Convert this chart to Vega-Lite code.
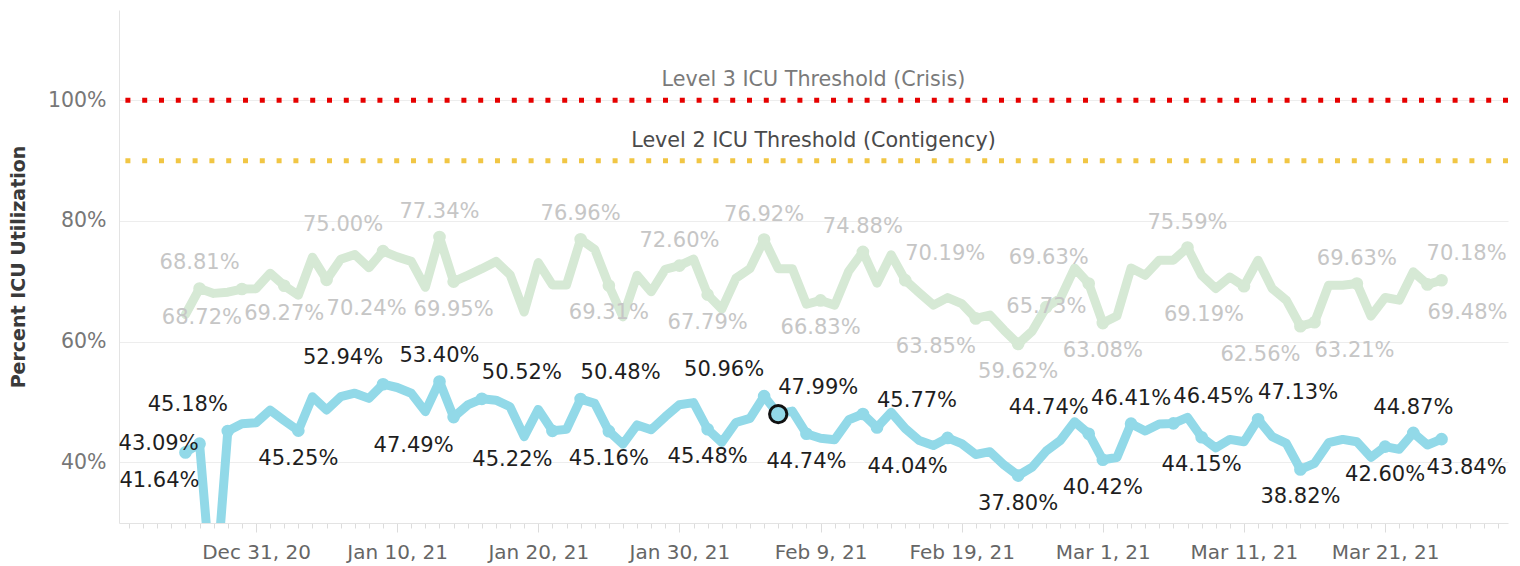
{
"$schema": "https://vega.github.io/schema/vega-lite/v6.json",
"width": 1389, "height": 513,
"autosize": {"type": "none"},
"padding": {"left": 119, "top": 10, "right": 12, "bottom": 43},
"config": {"font": "DejaVu Sans", "view": {"stroke": null}, "text": {"fontSize": 21}},
"params": [
 {"name": "places", "value": {
  "B0113":"n","B0303":"n","B0323":"n","A1227":"n","A0113":"n","A0123":"n","A0130":"n","A0205":"n","A0212":"n","A0307":"n","A0319":"n",
  "B0103":"s","B0125":"s","B0201":"s","B0208":"s","B0223":"s","B0301":"s","B0308":"s","B0315":"s","B0321":"s","A0102":"s","A0114":"s","A0125":"s","A0201":"s","A0209":"s","A0223":"s","A0301":"s",
  "B1229":"nw","B0109":"nw","B0205":"nw","B0228":"nw","A0109":"nw","A0228":"nw",
  "B0116":"ne","B0123":"ne","B0206":"ne","B0213":"ne","B0306":"ne","B0312":"ne","A0215":"ne",
  "B0114":"sw","B0121":"sw","B0218":"sw","A1230":"sw","A0220":"sw","A0311":"sw","A0315":"sw",
  "A0105":"se","A0316":"se","A0324":"se",
  "B1227":"w","A0225":"c","A0325":"ne2","B0325":"se2","B1226":"sw2"
 }}
],
"data": {"format": {"parse": {"date": "date"}}, "values": [
{"date":"2020-12-26T00:00","series":"Series A","value":0.6450},
{"date":"2020-12-27T00:00","series":"Series A","value":0.6881},
{"date":"2020-12-28T00:00","series":"Series A","value":0.6800},
{"date":"2020-12-29T00:00","series":"Series A","value":0.6820},
{"date":"2020-12-30T00:00","series":"Series A","value":0.6872},
{"date":"2020-12-31T00:00","series":"Series A","value":0.6875},
{"date":"2021-01-01T00:00","series":"Series A","value":0.7135},
{"date":"2021-01-02T00:00","series":"Series A","value":0.6927},
{"date":"2021-01-03T00:00","series":"Series A","value":0.6770},
{"date":"2021-01-04T00:00","series":"Series A","value":0.7400},
{"date":"2021-01-05T00:00","series":"Series A","value":0.7024},
{"date":"2021-01-06T00:00","series":"Series A","value":0.7365},
{"date":"2021-01-07T00:00","series":"Series A","value":0.7445},
{"date":"2021-01-08T00:00","series":"Series A","value":0.7225},
{"date":"2021-01-09T00:00","series":"Series A","value":0.7500},
{"date":"2021-01-10T00:00","series":"Series A","value":0.7405},
{"date":"2021-01-11T00:00","series":"Series A","value":0.7330},
{"date":"2021-01-12T00:00","series":"Series A","value":0.6900},
{"date":"2021-01-13T00:00","series":"Series A","value":0.7734},
{"date":"2021-01-14T00:00","series":"Series A","value":0.6995},
{"date":"2021-01-15T00:00","series":"Series A","value":0.7100},
{"date":"2021-01-16T00:00","series":"Series A","value":0.7210},
{"date":"2021-01-17T00:00","series":"Series A","value":0.7330},
{"date":"2021-01-18T00:00","series":"Series A","value":0.7110},
{"date":"2021-01-19T00:00","series":"Series A","value":0.6490},
{"date":"2021-01-20T00:00","series":"Series A","value":0.7310},
{"date":"2021-01-21T00:00","series":"Series A","value":0.6940},
{"date":"2021-01-22T00:00","series":"Series A","value":0.6940},
{"date":"2021-01-23T00:00","series":"Series A","value":0.7696},
{"date":"2021-01-24T00:00","series":"Series A","value":0.7530},
{"date":"2021-01-25T00:00","series":"Series A","value":0.6931},
{"date":"2021-01-26T00:00","series":"Series A","value":0.6410},
{"date":"2021-01-27T00:00","series":"Series A","value":0.7100},
{"date":"2021-01-28T00:00","series":"Series A","value":0.6825},
{"date":"2021-01-29T00:00","series":"Series A","value":0.7200},
{"date":"2021-01-30T00:00","series":"Series A","value":0.7260},
{"date":"2021-01-31T00:00","series":"Series A","value":0.7370},
{"date":"2021-02-01T00:00","series":"Series A","value":0.6779},
{"date":"2021-02-02T00:00","series":"Series A","value":0.6540},
{"date":"2021-02-03T00:00","series":"Series A","value":0.7050},
{"date":"2021-02-04T00:00","series":"Series A","value":0.7210},
{"date":"2021-02-05T00:00","series":"Series A","value":0.7692},
{"date":"2021-02-06T00:00","series":"Series A","value":0.7210},
{"date":"2021-02-07T00:00","series":"Series A","value":0.7210},
{"date":"2021-02-08T00:00","series":"Series A","value":0.6620},
{"date":"2021-02-09T00:00","series":"Series A","value":0.6683},
{"date":"2021-02-10T00:00","series":"Series A","value":0.6605},
{"date":"2021-02-11T00:00","series":"Series A","value":0.7170},
{"date":"2021-02-12T00:00","series":"Series A","value":0.7488},
{"date":"2021-02-13T00:00","series":"Series A","value":0.6970},
{"date":"2021-02-14T00:00","series":"Series A","value":0.7440},
{"date":"2021-02-15T00:00","series":"Series A","value":0.7019},
{"date":"2021-02-16T00:00","series":"Series A","value":0.6810},
{"date":"2021-02-17T00:00","series":"Series A","value":0.6605},
{"date":"2021-02-18T00:00","series":"Series A","value":0.6730},
{"date":"2021-02-19T00:00","series":"Series A","value":0.6630},
{"date":"2021-02-20T00:00","series":"Series A","value":0.6385},
{"date":"2021-02-21T00:00","series":"Series A","value":0.6440},
{"date":"2021-02-22T00:00","series":"Series A","value":0.6190},
{"date":"2021-02-23T00:00","series":"Series A","value":0.5962},
{"date":"2021-02-24T00:00","series":"Series A","value":0.6175},
{"date":"2021-02-25T00:00","series":"Series A","value":0.6573},
{"date":"2021-02-26T00:00","series":"Series A","value":0.6720},
{"date":"2021-02-27T00:00","series":"Series A","value":0.7220},
{"date":"2021-02-28T00:00","series":"Series A","value":0.6963},
{"date":"2021-03-01T00:00","series":"Series A","value":0.6308},
{"date":"2021-03-02T00:00","series":"Series A","value":0.6425},
{"date":"2021-03-03T00:00","series":"Series A","value":0.7220},
{"date":"2021-03-04T00:00","series":"Series A","value":0.7100},
{"date":"2021-03-05T00:00","series":"Series A","value":0.7350},
{"date":"2021-03-06T00:00","series":"Series A","value":0.7350},
{"date":"2021-03-07T00:00","series":"Series A","value":0.7559},
{"date":"2021-03-08T00:00","series":"Series A","value":0.7100},
{"date":"2021-03-09T00:00","series":"Series A","value":0.6880},
{"date":"2021-03-10T00:00","series":"Series A","value":0.7070},
{"date":"2021-03-11T00:00","series":"Series A","value":0.6919},
{"date":"2021-03-12T00:00","series":"Series A","value":0.7350},
{"date":"2021-03-13T00:00","series":"Series A","value":0.6880},
{"date":"2021-03-14T00:00","series":"Series A","value":0.6687},
{"date":"2021-03-15T00:00","series":"Series A","value":0.6256},
{"date":"2021-03-16T00:00","series":"Series A","value":0.6321},
{"date":"2021-03-17T00:00","series":"Series A","value":0.6936},
{"date":"2021-03-18T00:00","series":"Series A","value":0.6936},
{"date":"2021-03-19T00:00","series":"Series A","value":0.6963},
{"date":"2021-03-20T00:00","series":"Series A","value":0.6423},
{"date":"2021-03-21T00:00","series":"Series A","value":0.6732},
{"date":"2021-03-22T00:00","series":"Series A","value":0.6687},
{"date":"2021-03-23T00:00","series":"Series A","value":0.7157},
{"date":"2021-03-24T00:00","series":"Series A","value":0.6948},
{"date":"2021-03-25T00:00","series":"Series A","value":0.7018},
{"date":"2020-12-26T00:00","series":"Series B","value":0.4164},
{"date":"2020-12-27T00:00","series":"Series B","value":0.4309},
{"date":"2020-12-28T00:00","series":"Series B","value":0.1500},
{"date":"2020-12-29T00:00","series":"Series B","value":0.4518},
{"date":"2020-12-30T00:00","series":"Series B","value":0.4640},
{"date":"2020-12-31T00:00","series":"Series B","value":0.4655},
{"date":"2021-01-01T00:00","series":"Series B","value":0.4866},
{"date":"2021-01-02T00:00","series":"Series B","value":0.4690},
{"date":"2021-01-03T00:00","series":"Series B","value":0.4525},
{"date":"2021-01-04T00:00","series":"Series B","value":0.5087},
{"date":"2021-01-05T00:00","series":"Series B","value":0.4866},
{"date":"2021-01-06T00:00","series":"Series B","value":0.5087},
{"date":"2021-01-07T00:00","series":"Series B","value":0.5145},
{"date":"2021-01-08T00:00","series":"Series B","value":0.5060},
{"date":"2021-01-09T00:00","series":"Series B","value":0.5294},
{"date":"2021-01-10T00:00","series":"Series B","value":0.5240},
{"date":"2021-01-11T00:00","series":"Series B","value":0.5145},
{"date":"2021-01-12T00:00","series":"Series B","value":0.4840},
{"date":"2021-01-13T00:00","series":"Series B","value":0.5340},
{"date":"2021-01-14T00:00","series":"Series B","value":0.4749},
{"date":"2021-01-15T00:00","series":"Series B","value":0.4950},
{"date":"2021-01-16T00:00","series":"Series B","value":0.5052},
{"date":"2021-01-17T00:00","series":"Series B","value":0.5030},
{"date":"2021-01-18T00:00","series":"Series B","value":0.4920},
{"date":"2021-01-19T00:00","series":"Series B","value":0.4425},
{"date":"2021-01-20T00:00","series":"Series B","value":0.4877},
{"date":"2021-01-21T00:00","series":"Series B","value":0.4522},
{"date":"2021-01-22T00:00","series":"Series B","value":0.4546},
{"date":"2021-01-23T00:00","series":"Series B","value":0.5048},
{"date":"2021-01-24T00:00","series":"Series B","value":0.4976},
{"date":"2021-01-25T00:00","series":"Series B","value":0.4516},
{"date":"2021-01-26T00:00","series":"Series B","value":0.4300},
{"date":"2021-01-27T00:00","series":"Series B","value":0.4620},
{"date":"2021-01-28T00:00","series":"Series B","value":0.4540},
{"date":"2021-01-29T00:00","series":"Series B","value":0.4756},
{"date":"2021-01-30T00:00","series":"Series B","value":0.4955},
{"date":"2021-01-31T00:00","series":"Series B","value":0.4990},
{"date":"2021-02-01T00:00","series":"Series B","value":0.4548},
{"date":"2021-02-02T00:00","series":"Series B","value":0.4330},
{"date":"2021-02-03T00:00","series":"Series B","value":0.4660},
{"date":"2021-02-04T00:00","series":"Series B","value":0.4728},
{"date":"2021-02-05T00:00","series":"Series B","value":0.5096},
{"date":"2021-02-06T00:00","series":"Series B","value":0.4799},
{"date":"2021-02-07T00:00","series":"Series B","value":0.4850},
{"date":"2021-02-08T00:00","series":"Series B","value":0.4474},
{"date":"2021-02-09T00:00","series":"Series B","value":0.4400},
{"date":"2021-02-10T00:00","series":"Series B","value":0.4375},
{"date":"2021-02-11T00:00","series":"Series B","value":0.4705},
{"date":"2021-02-12T00:00","series":"Series B","value":0.4800},
{"date":"2021-02-13T00:00","series":"Series B","value":0.4577},
{"date":"2021-02-14T00:00","series":"Series B","value":0.4830},
{"date":"2021-02-15T00:00","series":"Series B","value":0.4560},
{"date":"2021-02-16T00:00","series":"Series B","value":0.4360},
{"date":"2021-02-17T00:00","series":"Series B","value":0.4280},
{"date":"2021-02-18T00:00","series":"Series B","value":0.4404},
{"date":"2021-02-19T00:00","series":"Series B","value":0.4310},
{"date":"2021-02-20T00:00","series":"Series B","value":0.4130},
{"date":"2021-02-21T00:00","series":"Series B","value":0.4176},
{"date":"2021-02-22T00:00","series":"Series B","value":0.3956},
{"date":"2021-02-23T00:00","series":"Series B","value":0.3780},
{"date":"2021-02-24T00:00","series":"Series B","value":0.3920},
{"date":"2021-02-25T00:00","series":"Series B","value":0.4190},
{"date":"2021-02-26T00:00","series":"Series B","value":0.4365},
{"date":"2021-02-27T00:00","series":"Series B","value":0.4673},
{"date":"2021-02-28T00:00","series":"Series B","value":0.4474},
{"date":"2021-03-01T00:00","series":"Series B","value":0.4042},
{"date":"2021-03-02T00:00","series":"Series B","value":0.4080},
{"date":"2021-03-03T00:00","series":"Series B","value":0.4641},
{"date":"2021-03-04T00:00","series":"Series B","value":0.4520},
{"date":"2021-03-05T00:00","series":"Series B","value":0.4635},
{"date":"2021-03-06T00:00","series":"Series B","value":0.4645},
{"date":"2021-03-07T00:00","series":"Series B","value":0.4745},
{"date":"2021-03-08T00:00","series":"Series B","value":0.4415},
{"date":"2021-03-09T00:00","series":"Series B","value":0.4240},
{"date":"2021-03-10T00:00","series":"Series B","value":0.4380},
{"date":"2021-03-11T00:00","series":"Series B","value":0.4340},
{"date":"2021-03-12T00:00","series":"Series B","value":0.4713},
{"date":"2021-03-13T00:00","series":"Series B","value":0.4425},
{"date":"2021-03-14T00:00","series":"Series B","value":0.4314},
{"date":"2021-03-15T00:00","series":"Series B","value":0.3882},
{"date":"2021-03-16T00:00","series":"Series B","value":0.3983},
{"date":"2021-03-17T00:00","series":"Series B","value":0.4325},
{"date":"2021-03-18T00:00","series":"Series B","value":0.4380},
{"date":"2021-03-19T00:00","series":"Series B","value":0.4340},
{"date":"2021-03-20T00:00","series":"Series B","value":0.4083},
{"date":"2021-03-21T00:00","series":"Series B","value":0.4260},
{"date":"2021-03-22T00:00","series":"Series B","value":0.4215},
{"date":"2021-03-23T00:00","series":"Series B","value":0.4487},
{"date":"2021-03-24T00:00","series":"Series B","value":0.4287},
{"date":"2021-03-25T00:00","series":"Series B","value":0.4384}
]},
"layer": [
 {"data": {"values": [{"name": "Level 3 ICU Threshold (Crisis)", "value": 1.0}, {"name": "Level 2 ICU Threshold (Contigency)", "value": 0.9}]},
  "mark": {"type": "rule", "strokeWidth": 5, "strokeDash": [5, 11.8]},
  "encoding": {
   "y": {"field": "value", "type": "quantitative", "scale": {"domain": [0.2994, 1.1497], "nice": false, "zero": false}},
   "color": {"condition": {"test": "datum.value == 1", "value": "#e60000"}, "value": "#f1c644"}}},
 {"data": {"values": [{"name": "Level 3 ICU Threshold (Crisis)", "value": 1.0}]},
  "mark": {"type": "text", "fontSize": 20.7, "dy": -20, "baseline": "middle", "align": "center", "color": "#7a7a7a"},
  "encoding": {
   "x": {"datum": {"year": 2021, "month": "feb", "date": 8, "hours": 12}, "type": "temporal", "scale": {"domain": [{"year": 2020, "month": "dec", "date": 21, "hours": 7}, {"year": 2021, "month": "mar", "date": 29, "hours": 17}]}},
   "y": {"field": "value", "type": "quantitative", "scale": {"domain": [0.2994, 1.1497], "nice": false, "zero": false}},
   "text": {"field": "name"}}},
 {"data": {"values": [{"name": "Level 2 ICU Threshold (Contigency)", "value": 0.9}]},
  "mark": {"type": "text", "fontSize": 20.7, "dy": -20, "baseline": "middle", "align": "center", "color": "#4a4a4a"},
  "encoding": {
   "x": {"datum": {"year": 2021, "month": "feb", "date": 8, "hours": 12}, "type": "temporal", "scale": {"domain": [{"year": 2020, "month": "dec", "date": 21, "hours": 7}, {"year": 2021, "month": "mar", "date": 29, "hours": 17}]}},
   "y": {"field": "value", "type": "quantitative", "scale": {"domain": [0.2994, 1.1497], "nice": false, "zero": false}},
   "text": {"field": "name"}}},
 {"mark": {"type": "line", "strokeWidth": 9, "strokeCap": "round", "strokeJoin": "round", "clip": true},
  "encoding": {
   "x": {"field": "date", "type": "temporal", "title": null,
    "scale": {"domain": [{"year": 2020, "month": "dec", "date": 21, "hours": 7}, {"year": 2021, "month": "mar", "date": 29, "hours": 17}]},
    "axis": {"tickCount": {"interval": "day", "step": 1}, "grid": false, "labelOverlap": false, "labelFlush": false, "labelBound": false,
     "labelExpr": "round((datum.value - time(datetime(2020,11,31)))/864e5) % 10 == 0 ? timeFormat(datum.value, '%b %-d, %y') : ''",
     "labelColor": "#666666", "labelFontSize": 20, "labelPadding": 10, "tickColor": "#dcdcdc",
     "tickSize": {"condition": {"test": "round((datum.value - time(datetime(2020,11,31)))/864e5) % 10 == 0", "value": 9}, "value": 5},
     "domainColor": "#e3e3e3"}},
   "y": {"field": "value", "type": "quantitative", "title": "Percent ICU Utilization",
    "scale": {"domain": [0.2994, 1.1497], "nice": false, "zero": false},
    "axis": {"values": [0.4, 0.6, 0.8, 1.0], "format": ".0%", "ticks": false, "domainColor": "#e3e3e3", "gridColor": "#ededed",
     "labelColor": "#777777", "labelFontSize": 20.5, "labelPadding": 13,
     "titleFontSize": 19, "titleFontWeight": "bold", "titleColor": "#3a3a3a", "titleX": -101, "titleY": 256.5, "titleAngle": -90, "titleAlign": "center", "titleBaseline": "middle"}},
   "color": {"field": "series", "type": "nominal", "scale": {"domain": ["Series A", "Series B"], "range": ["#d6e9d5", "#92d9e8"]}, "legend": null}}},
 {"transform": [{"filter": "isValid(places[(datum.series == 'Series A' ? 'A' : 'B') + timeFormat(datum.date, '%m%d')]) || ((datum.series == 'Series A' ? 'A' : 'B') + timeFormat(datum.date, '%m%d')) == 'B0212'"}],
  "mark": {"type": "point", "filled": true, "size": 160, "opacity": 1},
  "encoding": {
   "x": {"field": "date", "type": "temporal"},
   "y": {"field": "value", "type": "quantitative"},
   "color": {"field": "series", "type": "nominal", "scale": {"domain": ["Series A", "Series B"], "range": ["#d6e9d5", "#92d9e8"]}, "legend": null}}},
 {"transform": [{"filter": "((datum.series == 'Series A' ? 'A' : 'B') + timeFormat(datum.date, '%m%d')) == 'B0206'"}],
  "mark": {"type": "point", "filled": false, "size": 300, "fill": "#92d9e8", "stroke": "#111111", "strokeWidth": 3, "opacity": 1, "fillOpacity": 1},
  "encoding": {
   "x": {"field": "date", "type": "temporal"},
   "y": {"field": "value", "type": "quantitative"}}},
 {"transform": [{"filter": "places[(datum.series == 'Series A' ? 'A' : 'B') + timeFormat(datum.date, '%m%d')] == 'n'"}],
  "mark": {"type": "text", "dx": 0, "dy": -25, "baseline": "middle", "align": "center"},
  "encoding": {"x": {"field": "date", "type": "temporal"}, "y": {"field": "value", "type": "quantitative"}, "text": {"field": "value", "type": "quantitative", "format": ".2%"},
   "color": {"condition": {"test": "datum.series == 'Series A'", "value": "#c6c6c6"}, "value": "#1e1e1e"}}},
 {"transform": [{"filter": "places[(datum.series == 'Series A' ? 'A' : 'B') + timeFormat(datum.date, '%m%d')] == 's'"}],
  "mark": {"type": "text", "dx": 0, "dy": 28, "baseline": "middle", "align": "center"},
  "encoding": {"x": {"field": "date", "type": "temporal"}, "y": {"field": "value", "type": "quantitative"}, "text": {"field": "value", "type": "quantitative", "format": ".2%"},
   "color": {"condition": {"test": "datum.series == 'Series A'", "value": "#c6c6c6"}, "value": "#1e1e1e"}}},
 {"transform": [{"filter": "places[(datum.series == 'Series A' ? 'A' : 'B') + timeFormat(datum.date, '%m%d')] == 'nw'"}],
  "mark": {"type": "text", "dx": -40, "dy": -26, "baseline": "middle", "align": "center"},
  "encoding": {"x": {"field": "date", "type": "temporal"}, "y": {"field": "value", "type": "quantitative"}, "text": {"field": "value", "type": "quantitative", "format": ".2%"},
   "color": {"condition": {"test": "datum.series == 'Series A'", "value": "#c6c6c6"}, "value": "#1e1e1e"}}},
 {"transform": [{"filter": "places[(datum.series == 'Series A' ? 'A' : 'B') + timeFormat(datum.date, '%m%d')] == 'ne'"}],
  "mark": {"type": "text", "dx": 40, "dy": -26, "baseline": "middle", "align": "center"},
  "encoding": {"x": {"field": "date", "type": "temporal"}, "y": {"field": "value", "type": "quantitative"}, "text": {"field": "value", "type": "quantitative", "format": ".2%"},
   "color": {"condition": {"test": "datum.series == 'Series A'", "value": "#c6c6c6"}, "value": "#1e1e1e"}}},
 {"transform": [{"filter": "places[(datum.series == 'Series A' ? 'A' : 'B') + timeFormat(datum.date, '%m%d')] == 'sw'"}],
  "mark": {"type": "text", "dx": -40, "dy": 29, "baseline": "middle", "align": "center"},
  "encoding": {"x": {"field": "date", "type": "temporal"}, "y": {"field": "value", "type": "quantitative"}, "text": {"field": "value", "type": "quantitative", "format": ".2%"},
   "color": {"condition": {"test": "datum.series == 'Series A'", "value": "#c6c6c6"}, "value": "#1e1e1e"}}},
 {"transform": [{"filter": "places[(datum.series == 'Series A' ? 'A' : 'B') + timeFormat(datum.date, '%m%d')] == 'se'"}],
  "mark": {"type": "text", "dx": 40, "dy": 29, "baseline": "middle", "align": "center"},
  "encoding": {"x": {"field": "date", "type": "temporal"}, "y": {"field": "value", "type": "quantitative"}, "text": {"field": "value", "type": "quantitative", "format": ".2%"},
   "color": {"condition": {"test": "datum.series == 'Series A'", "value": "#c6c6c6"}, "value": "#1e1e1e"}}},
 {"transform": [{"filter": "places[(datum.series == 'Series A' ? 'A' : 'B') + timeFormat(datum.date, '%m%d')] == 'w'"}],
  "mark": {"type": "text", "dx": -41, "dy": 0, "baseline": "middle", "align": "center"},
  "encoding": {"x": {"field": "date", "type": "temporal"}, "y": {"field": "value", "type": "quantitative"}, "text": {"field": "value", "type": "quantitative", "format": ".2%"},
   "color": {"condition": {"test": "datum.series == 'Series A'", "value": "#c6c6c6"}, "value": "#1e1e1e"}}},
 {"transform": [{"filter": "places[(datum.series == 'Series A' ? 'A' : 'B') + timeFormat(datum.date, '%m%d')] == 'c'"}],
  "mark": {"type": "text", "dx": 0, "dy": 0, "baseline": "middle", "align": "center"},
  "encoding": {"x": {"field": "date", "type": "temporal"}, "y": {"field": "value", "type": "quantitative"}, "text": {"field": "value", "type": "quantitative", "format": ".2%"},
   "color": {"condition": {"test": "datum.series == 'Series A'", "value": "#c6c6c6"}, "value": "#1e1e1e"}}},
 {"transform": [{"filter": "places[(datum.series == 'Series A' ? 'A' : 'B') + timeFormat(datum.date, '%m%d')] == 'ne2'"}],
  "mark": {"type": "text", "dx": 25, "dy": -26, "baseline": "middle", "align": "center"},
  "encoding": {"x": {"field": "date", "type": "temporal"}, "y": {"field": "value", "type": "quantitative"}, "text": {"field": "value", "type": "quantitative", "format": ".2%"},
   "color": {"condition": {"test": "datum.series == 'Series A'", "value": "#c6c6c6"}, "value": "#1e1e1e"}}},
 {"transform": [{"filter": "places[(datum.series == 'Series A' ? 'A' : 'B') + timeFormat(datum.date, '%m%d')] == 'se2'"}],
  "mark": {"type": "text", "dx": 25, "dy": 29, "baseline": "middle", "align": "center"},
  "encoding": {"x": {"field": "date", "type": "temporal"}, "y": {"field": "value", "type": "quantitative"}, "text": {"field": "value", "type": "quantitative", "format": ".2%"},
   "color": {"condition": {"test": "datum.series == 'Series A'", "value": "#c6c6c6"}, "value": "#1e1e1e"}}},
 {"transform": [{"filter": "places[(datum.series == 'Series A' ? 'A' : 'B') + timeFormat(datum.date, '%m%d')] == 'sw2'"}],
  "mark": {"type": "text", "dx": -26, "dy": 29, "baseline": "middle", "align": "center"},
  "encoding": {"x": {"field": "date", "type": "temporal"}, "y": {"field": "value", "type": "quantitative"}, "text": {"field": "value", "type": "quantitative", "format": ".2%"},
   "color": {"condition": {"test": "datum.series == 'Series A'", "value": "#c6c6c6"}, "value": "#1e1e1e"}}}
]
}
